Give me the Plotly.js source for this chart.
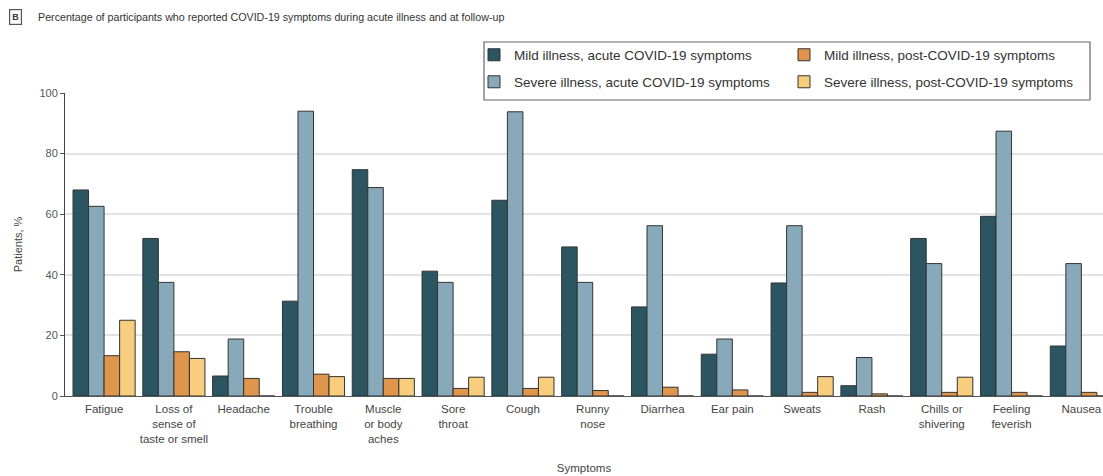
<!DOCTYPE html>
<html>
<head>
<meta charset="utf-8">
<script src="https://cdn.plot.ly/plotly-3.0.1.min.js"></script>
<style>html,body{margin:0;padding:0;background:#fff;}#chart{width:1103px;height:476px;}</style>
</head>
<body>
<div id="chart"></div>
<script>
const categories = ["Fatigue", "Loss of<br>sense of<br>taste or smell", "Headache", "Trouble<br>breathing", "Muscle<br>or body<br>aches", "Sore<br>throat", "Cough", "Runny<br>nose", "Diarrhea", "Ear pain", "Sweats", "Rash", "Chills or<br>shivering", "Feeling<br>feverish", "Nausea"];
const mildAcute   = [68, 52, 6.6, 31.3, 74.7, 41.2, 64.6, 49.2, 29.4, 13.8, 37.3, 3.4, 52, 59.3, 16.5];
const severeAcute = [62.6, 37.5, 18.8, 94, 68.8, 37.5, 93.8, 37.5, 56.2, 18.8, 56.2, 12.7, 43.7, 87.4, 43.7];
const mildPost    = [13.3, 14.6, 5.8, 7.2, 5.8, 2.5, 2.5, 1.8, 2.9, 2, 1.2, 0.7, 1.2, 1.2, 1.2];
const severePost  = [25, 12.4, 0, 6.4, 5.8, 6.2, 6.2, 0, 0, 0, 6.4, 0, 6.2, 0, 0];
const seriesNames = ["Mild illness, acute COVID-19 symptoms", "Severe illness, acute COVID-19 symptoms", "Mild illness, post-COVID-19 symptoms", "Severe illness, post-COVID-19 symptoms"];
const titleText = "Percentage of participants who reported COVID-19 symptoms during acute illness and at follow-up";

const FONT = "'Liberation Sans', Arial, sans-serif";
const colors = ["#2b5561", "#88a9b9", "#df954b", "#f8cd7e"];
const seriesVals = [mildAcute, severeAcute, mildPost, severePost];
const legendIds = ["legend", "legend3", "legend2", "legend4"];

const traces = seriesVals.map((vals, i) => ({
  type: "bar",
  x: categories,
  y: vals,
  name: seriesNames[i],
  legend: legendIds[i],
  showlegend: true,
  marker: {color: colors[i], line: {color: "#333333", width: 1}},
  hoverinfo: "x+y+name"
}));

const L = 65, T = 93, W = 1038, H = 303;
const px = x => (x - L) / W;
const py = y => (T + H - y) / H;

function legendAt(x, y) {
  return {
    xref: "paper", yref: "paper",
    x: px(x), y: py(y),
    xanchor: "left", yanchor: "middle",
    bgcolor: "rgba(0,0,0,0)", borderwidth: 0,
    font: {family: FONT, size: 13.5, color: "#333"},
    itemwidth: 30
  };
}

const layout = {
  width: 1103, height: 476,
  showlegend: true,
  margin: {l: L, r: 1103 - L - W, t: T, b: 476 - T - H, autoexpand: false},
  paper_bgcolor: "#ffffff", plot_bgcolor: "#ffffff",
  font: {family: FONT, color: "#333"},
  barmode: "group",
  bargap: 0.11,
  bargroupgap: 0,
  legend: legendAt(474, 55),
  legend2: legendAt(784, 55),
  legend3: legendAt(474, 82),
  legend4: legendAt(784, 82),
  xaxis: {
    type: "category",
    range: [-0.56, 14.31],
    showline: true, linecolor: "#555", linewidth: 1,
    ticks: "", showgrid: false,
    ticklabelstandoff: 2,
    tickfont: {family: FONT, size: 11.5, color: "#444"},
    title: {text: "Symptoms", font: {family: FONT, size: 11.5, color: "#444"}, standoff: 20},
    automargin: false
  },
  yaxis: {
    range: [0, 100],
    tickvals: [0, 20, 40, 60, 80, 100],
    showline: true, linecolor: "#444", linewidth: 1,
    ticks: "outside", ticklen: 4, tickcolor: "#555",
    showgrid: true, gridcolor: "#e2e2e2", gridwidth: 1.5,
    zeroline: false,
    tickfont: {family: FONT, size: 11, color: "#555"},
    title: {text: "Patients, %", font: {family: FONT, size: 11, color: "#444"}, standoff: 14},
    automargin: false
  },
  shapes: [
    {type: "rect", xref: "paper", yref: "paper",
     x0: px(484), x1: px(1090), y0: py(42), y1: py(100),
     line: {color: "#666", width: 1.2}, fillcolor: "rgba(0,0,0,0)"}
  ],
  annotations: [
    {xref: "paper", yref: "paper", x: px(9), y: py(17), xanchor: "left", yanchor: "middle",
     text: "<b>B</b>", showarrow: false, bordercolor: "#555", borderwidth: 1.2, borderpad: 2,
     font: {family: FONT, size: 9, color: "#333"}},
    {xref: "paper", yref: "paper", x: px(36), y: py(17), xanchor: "left", yanchor: "middle",
     text: titleText, showarrow: false,
     font: {family: FONT, size: 10.7, color: "#333"}}
  ]
};

Plotly.newPlot("chart", traces, layout, {displayModeBar: false, responsive: false});
</script>
</body>
</html>
